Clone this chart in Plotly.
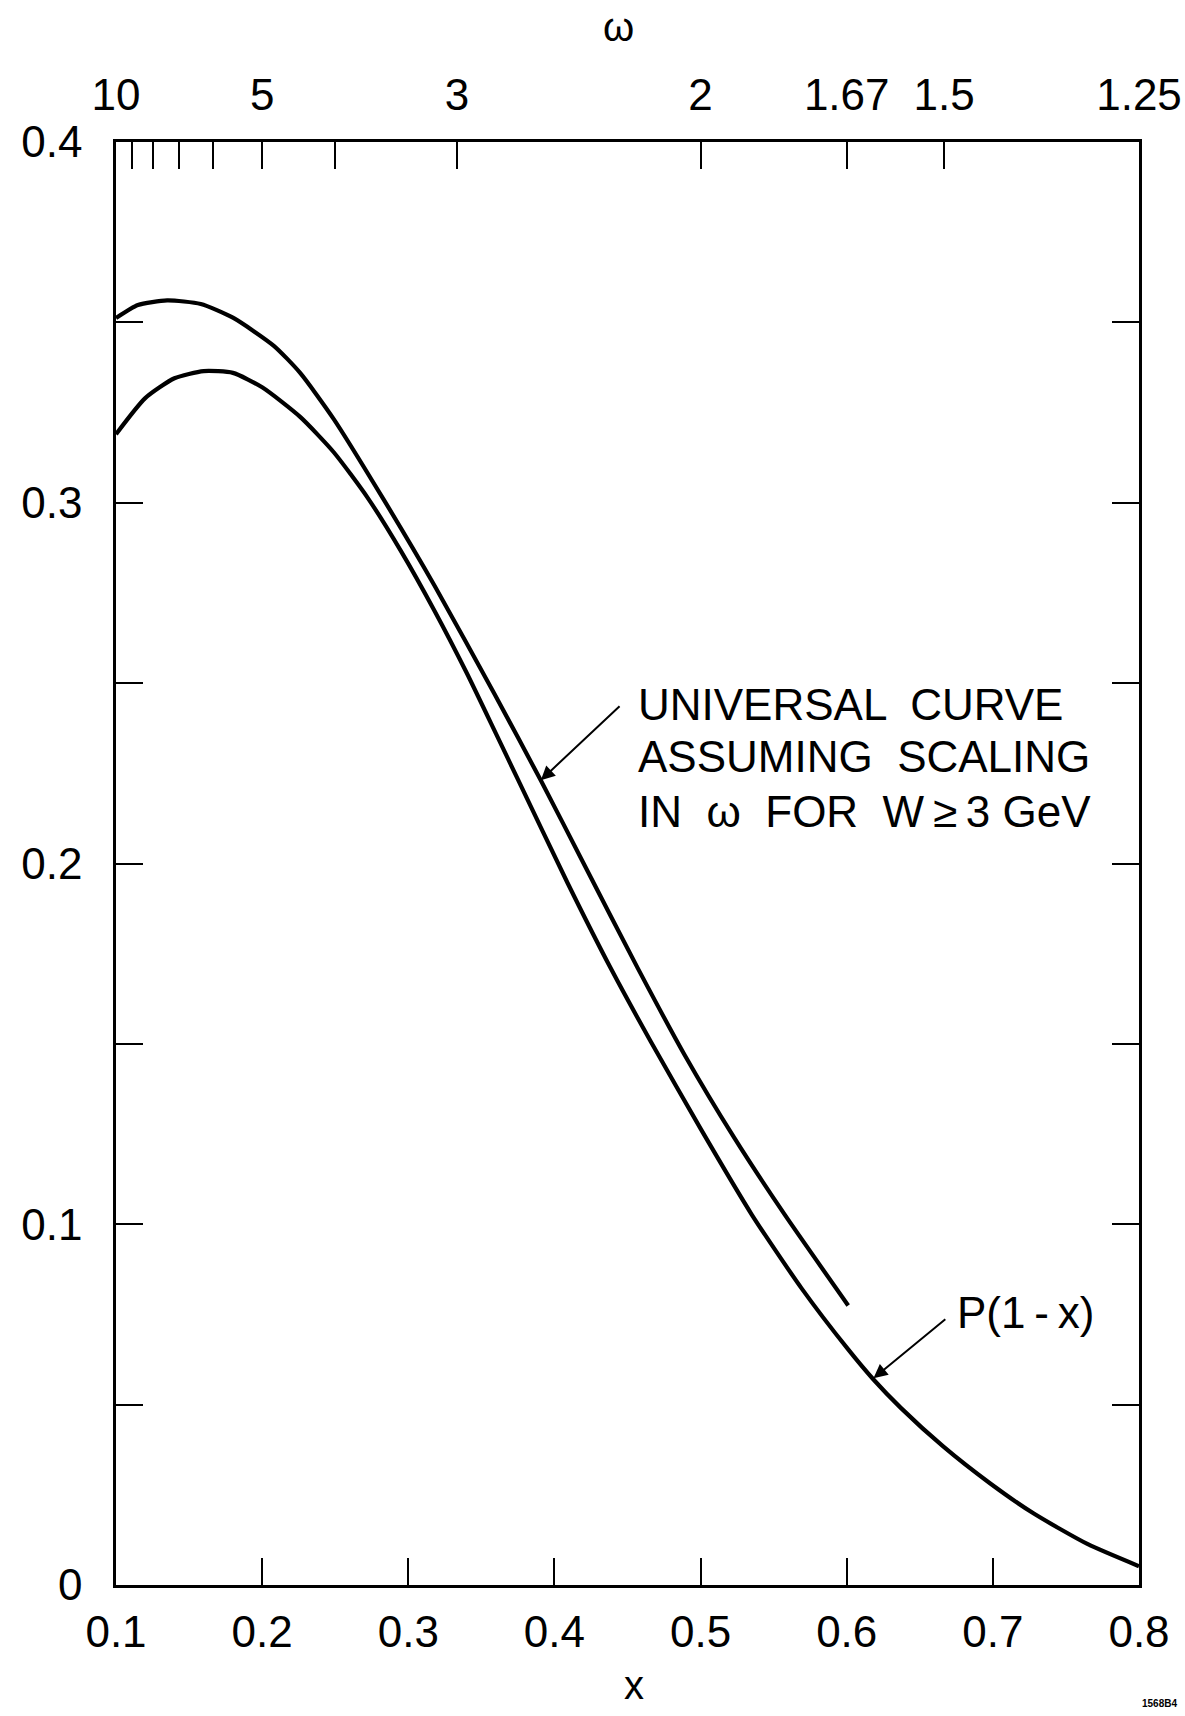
import plotly.graph_objects as go

# ---------------- data ----------------
x_universal = [0.100, 0.115, 0.135, 0.158, 0.180, 0.208, 0.226, 0.249, 0.283, 0.318,
               0.359, 0.391, 0.420, 0.457, 0.489, 0.523, 0.557, 0.601]
y_universal = [0.3512, 0.3548, 0.3561, 0.3551, 0.3513, 0.3435, 0.3360, 0.3232, 0.3010, 0.2770,
               0.2470, 0.2228, 0.2000, 0.1710, 0.1470, 0.1240, 0.1030, 0.0775]

x_p1mx = [0.100, 0.120, 0.140, 0.160, 0.180, 0.200, 0.226, 0.249, 0.272, 0.295, 0.318,
          0.340, 0.360, 0.375, 0.409, 0.439, 0.466, 0.500, 0.535, 0.569, 0.601, 0.618,
          0.637, 0.666, 0.698, 0.728, 0.765, 0.800]
y_p1mx = [0.3190, 0.3290, 0.3345, 0.3365, 0.3360, 0.3320, 0.3238, 0.3140, 0.3015, 0.2866, 0.2700,
          0.2528, 0.2360, 0.2233, 0.1946, 0.1706, 0.1506, 0.1265, 0.1027, 0.0823, 0.0653, 0.0571,
          0.0491, 0.0384, 0.0282, 0.0198, 0.0113, 0.0052]

x_tickvals = [0.1, 0.2, 0.3, 0.4, 0.5, 0.6, 0.7, 0.8]
x_ticktext = ["0.1", "0.2", "0.3", "0.4", "0.5", "0.6", "0.7", "0.8"]

omega_values = [10, 9, 8, 7, 6, 5, 4, 3, 2, 1.6667, 1.5, 1.25]
omega_ticktext = ["10", "", "", "", "", "5", "", "3", "2", "1.67", "1.5", "1.25"]

y_tickvals = [0.0, 0.05, 0.1, 0.15, 0.2, 0.25, 0.3, 0.35, 0.4]
y_ticktext = ["0", "", "0.1", "", "0.2", "", "0.3", "", "0.4"]

# ---------------- figure ----------------
FONT = "Liberation Sans, Arial, sans-serif"
W, H = 1185, 1716
L, R, T, B = 116, 46, 142, 131

fig = go.Figure()
curve_line = dict(color="black", width=4.2, shape="spline", smoothing=0.6)
fig.add_trace(go.Scatter(x=x_universal, y=y_universal, mode="lines", line=curve_line,
                         showlegend=False, hoverinfo="skip"))
fig.add_trace(go.Scatter(x=x_p1mx, y=y_p1mx, mode="lines", line=curve_line,
                         showlegend=False, hoverinfo="skip"))
# carrier trace for the top omega axis
fig.add_trace(go.Scatter(x=[0.1, 0.8], y=[0, 0], xaxis="x2", mode="lines",
                         line=dict(width=0, color="rgba(0,0,0,0)"),
                         showlegend=False, hoverinfo="skip"))

axis_common = dict(showgrid=False, zeroline=False, ticks="inside", ticklen=27,
                   tickwidth=2.2, tickcolor="black", automargin=False,
                   tickfont=dict(family=FONT, size=44, color="black"))

fig.update_layout(
    width=W, height=H,
    margin=dict(l=L, r=R, t=T, b=B, autoexpand=False),
    paper_bgcolor="white", plot_bgcolor="white",
    xaxis=dict(range=[0.1, 0.8], tickmode="array", tickvals=x_tickvals, ticktext=x_ticktext,
               showline=True, linecolor="black", linewidth=2.5, mirror=True,
               ticklabelstandoff=6, **axis_common),
    xaxis2=dict(range=[0.1, 0.8], overlaying="x", side="top", tickmode="array",
                tickvals=[1.0 / w for w in omega_values], ticktext=omega_ticktext,
                showline=False, ticklabelstandoff=22, **axis_common),
    yaxis=dict(range=[0, 0.4], tickmode="array", tickvals=y_tickvals, ticktext=y_ticktext,
               showline=True, linecolor="black", linewidth=2.5, mirror="ticks",
               ticklabelstandoff=22, **axis_common),
)

txt = dict(family=FONT, size=44, color="black")

# labels of the curves
fig.add_annotation(x=0.3907, y=0.2231, ax=0.4456, ay=0.2440, xref="x", yref="y",
                   axref="x", ayref="y", showarrow=True, arrowhead=2, arrowsize=1.4,
                   arrowwidth=2, arrowcolor="black", text="")
fig.add_annotation(x=0.4560, y=0.2440, xref="x", yref="y", xanchor="left", yanchor="middle",
                   text="UNIVERSAL  CURVE", showarrow=False, font=txt)
fig.add_annotation(x=0.4560, y=0.2296, xref="x", yref="y", xanchor="left", yanchor="middle",
                   text="ASSUMING  SCALING", showarrow=False, font=txt)
fig.add_annotation(x=0.4560, y=0.2143, xref="x", yref="y", xanchor="left", yanchor="middle",
                   text="IN  \u03c9  FOR  W\u2009\u2265\u20093 GeV", showarrow=False, font=txt)

fig.add_annotation(x=0.6183, y=0.0573, ax=0.6685, ay=0.0740, xref="x", yref="y",
                   axref="x", ayref="y", showarrow=True, arrowhead=2, arrowsize=1.4,
                   arrowwidth=2, arrowcolor="black", text="")
fig.add_annotation(x=0.6740, y=0.0756, xref="x", yref="y", xanchor="left", yanchor="middle",
                   text="P(1\u2009-\u2009x)", showarrow=False, font=txt)

# axis titles
fig.add_annotation(x=0.491, y=1.0797, xref="paper", yref="paper", text="\u03c9",
                   xanchor="center", yanchor="middle",
                   showarrow=False, font=dict(family=FONT, size=40, color="black"))
fig.add_annotation(x=0.506, y=-0.0690, xref="paper", yref="paper", text="x",
                   xanchor="center", yanchor="middle",
                   showarrow=False, font=dict(family=FONT, size=40, color="black"))
fig.add_annotation(x=1.0205, y=-0.0818, xref="paper", yref="paper", text="<b>1568B4</b>",
                   xanchor="center", yanchor="middle",
                   showarrow=False, font=dict(family=FONT, size=10, color="black"))

fig.write_html("out.html")
